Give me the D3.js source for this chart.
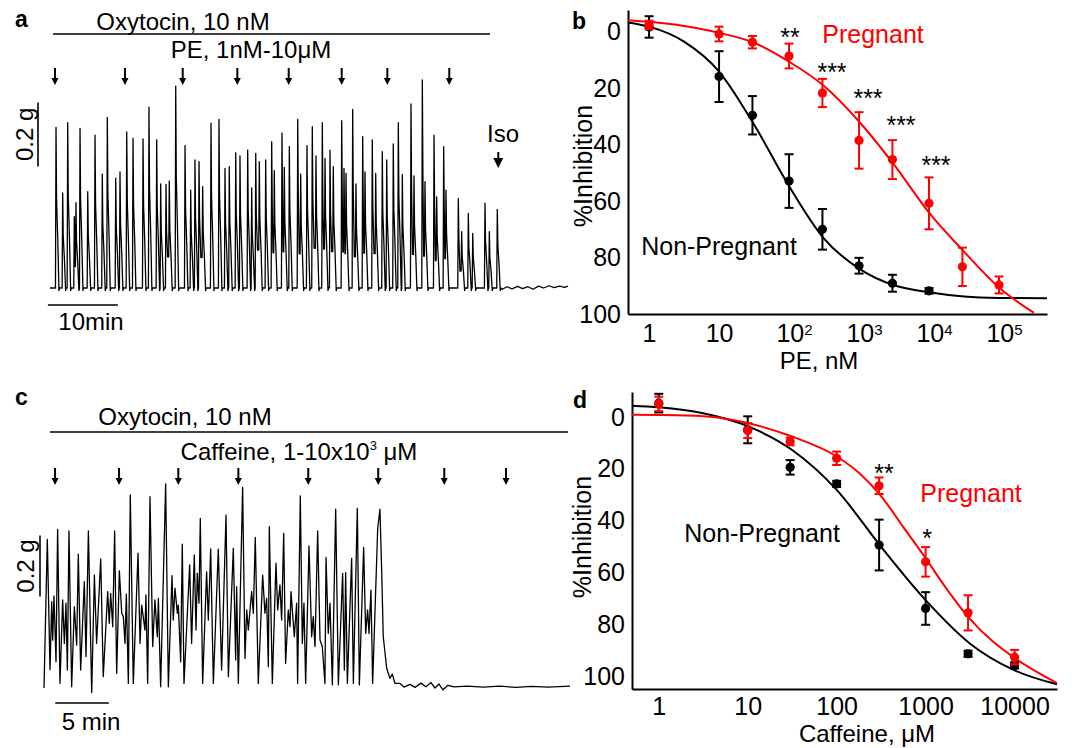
<!DOCTYPE html>
<html>
<head>
<meta charset="utf-8">
<script src="https://cdn.jsdelivr.net/npm/d3@7/dist/d3.min.js"></script>
<style>
  body { margin: 0; background: #fff; }
  text { font-family: "Liberation Sans", Arial, Helvetica, sans-serif; }
</style>
</head>
<body>
<div id="wrapper"></div>
<script>
// ---------- panel a : PE on oxytocin contractions ----------
const peArrowTimes = [0.71, 10.71, 18.96, 26.76, 34.1, 41.67, 48.19, 57.04]; // min
const isoTime = 64.04;
const oxyBarA = [0.43, 62.86];
// contraction spikes: [time (min), force (g)]
const spikesA = [
  [0.86,0.502],[1.81,0.297],[2.53,0.517],[3.47,0.223],[3.71,0.267],[4.29,0.499],[5.39,0.301],[6.43,0.478],
  [7.47,0.356],[8.19,0.533],[9.39,0.343],[10.0,0.363],[10.96,0.488],[11.86,0.468],[13.29,0.466],[14.14,0.565],
  [15.24,0.463],[15.81,0.325],[16.57,0.324],[17.04,0.334],[17.96,0.631],[19.29,0.445],[20.1,0.306],[20.71,0.4],
  [21.29,0.395],[21.81,0.317],[23.0,0.515],[24.14,0.527],[25.0,0.374],[25.61,0.379],[26.53,0.423],[27.14,0.413],
  [28.24,0.431],[28.81,0.313],[29.39,0.421],[29.9,0.395],[30.81,0.4],[31.67,0.457],[32.04,0.367],[33.14,0.485],
  [33.47,0.377],[34.19,0.442],[35.39,0.527],[35.81,0.356],[36.71,0.445],[37.47,0.504],[38.0,0.413],[38.9,0.517],
  [39.29,0.405],[40.0,0.431],[40.47,0.379],[41.67,0.523],[42.0,0.374],[42.29,0.358],[43.24,0.558],[43.71,0.325],
  [44.67,0.473],[45.0,0.363],[46.04,0.463],[46.53,0.358],[47.47,0.426],[48.1,0.4],[49.04,0.45],[49.76,0.517],
  [50.33,0.355],[51.57,0.575],[52.0,0.35],[53.19,0.65],[53.57,0.332],[54.86,0.478],[55.24,0.285],[56.24,0.442],
  [56.57,0.306],[58.33,0.28],[58.81,0.176],[59.76,0.233],[60.39,0.171],[62.14,0.265],[62.76,0.176],[63.9,0.246]
];
// resting tension after Iso: [time (min), force (g)]
const tailA = [
  [64.6,-0.004],[65.3,0.004],[66,-0.003],[66.8,0.005],[67.5,-0.002],[68.3,0.004],[69,-0.004],
  [69.8,0.006],[70.5,0.0],[71.3,0.007],[72,0.001],[72.8,0.006],[73.5,0.002],[74,0.006]
];

// ---------- panel c : caffeine on oxytocin contractions ----------
const cafArrowTimes = [1.03, 7.0, 12.53, 18.13, 24.65, 31.18, 37.34, 43.1]; // min
const oxyBarC = [0.56, 48.88];
// trace turning points: [time (min), force (g)]
const traceC = [
  [0,0],[0.31,0.487],[0.56,0.06],[0.72,0.283],[0.81,0.157],[0.93,0.302],[1.12,0.086],[1.27,0.52],[1.49,0.015],
  [1.74,0.289],[1.9,0.146],[2.05,0.278],[2.18,0.059],[2.33,0.515],[2.58,0.004],[2.83,0.267],[3.05,0.141],[3.2,0.439],
  [3.42,0.059],[3.76,0.349],[3.92,0.103],[4.14,0.515],[4.45,-0.015],[4.7,0.37],[4.91,0.146],[5.29,0.423],[5.53,0.037],
  [5.94,0.316],[6.09,0.212],[6.22,0.31],[6.41,0.201],[6.59,0.515],[6.78,0.048],[7.03,0.384],[7.25,0.245],[7.4,0.234],
  [7.56,0.146],[7.68,0.308],[7.87,0.015],[8.05,0.633],[8.33,0.015],[8.77,0.442],[8.96,0.146],[9.11,0.272],[9.42,0.19],
  [9.51,0.305],[9.67,0.015],[9.89,0.627],[10.14,0.136],[10.35,0.289],[10.57,0.168],[10.67,0.294],[10.88,0.004],
  [11.35,0.669],[11.6,0.004],[11.94,0.368],[12.06,0.223],[12.22,0.327],[12.44,0.245],[12.53,0.272],[12.75,0.086],
  [12.9,0.472],[13.06,0.015],[13.59,0.404],[13.77,0.146],[14.02,0.436],[14.18,0.19],[14.3,0.376],[14.46,0.278],
  [14.58,0.556],[14.8,0.015],[15.17,0.381],[15.33,0.223],[15.55,0.456],[15.8,0.015],[16.26,0.455],[16.57,0.059],
  [16.98,0.567],[17.2,0.037],[17.66,0.458],[17.88,0.092],[17.97,0.332],[18.13,0.015],[18.53,0.658],[18.75,0.097],
  [18.91,0.256],[19.06,0.19],[19.37,0.316],[19.53,0.245],[19.71,0.494],[19.99,0.015],[20.4,0.37],[20.61,0.245],
  [20.77,0.294],[20.93,0.07],[21.02,0.529],[21.3,0.015],[21.64,0.409],[21.8,0.256],[22.01,0.338],[22.17,0.223],
  [22.36,0.507],[22.54,0.081],[22.79,0.256],[22.95,0.201],[23.04,0.316],[23.35,0.168],[23.57,0.278],[23.66,0.015],
  [23.91,0.63],[24.1,0.146],[24.25,0.278],[24.41,0.015],[24.72,0.466],[24.97,0.168],[25.12,0.234],[25.28,0.136],
  [25.53,0.515],[25.75,0.157],[25.96,0.136],[26.21,0.015],[26.31,0.428],[26.52,0.179],[26.68,0.278],[26.9,0.01],
  [27.21,0.586],[27.46,0.01],[27.86,0.376],[28.02,0.059],[28.14,0.378],[28.3,0.015],[28.7,0.425],[28.86,0.015],
  [29.23,0.589],[29.42,0.01],[29.82,0.461],[30.01,0.179],[30.19,0.256],[30.32,0.179],[30.5,0.321],[30.66,0.015],
  [31.13,0.523],[31.34,0.586],[31.5,0.387],[31.65,0.168],[31.97,0.064],[32.28,0.032],[32.49,0.046],[32.74,0.015],
  [33.21,0.015],[33.58,0.003],[34.14,0.012],[34.61,0.002],[35.17,0.016],[35.63,0.004],[36.1,0.018],[36.47,0.0],
  [36.85,0.013],[37.22,-0.006],[37.69,0.009],[38.25,0.004],[39.5,0.006],[41,0.003],[42.5,0.006],[44,0.002],
  [45.5,0.005],[47,0.003],[49.07,0.006]
];

// ---------- panel b : PE dose response (%Inhibition) ----------
const peDoses = [1, 10, 30, 100, 300, 1000, 3000, 10000, 30000, 100000]; // nM
const peNonPreg = [-1.7, 15.9, 29.6, 52.9, 70.0, 82.9, 89.1, 91.8];
const peNonPregErr = [3.8, 9.0, 6.8, 9.5, 7.2, 2.8, 3.0, 1.0];
const pePreg = [-2.4, 0.8, 3.7, 8.6, 21.7, 38.5, 45.3, 60.8, 83.3, 89.7];
const pePregErr = [1.5, 2.6, 2.2, 4.4, 5.0, 10.0, 6.9, 9.2, 6.8, 3.0];
const peFitDoses = [0.5, 1, 3.16, 10, 31.6, 100, 316, 1000, 3162, 10000, 31623, 100000, 485000];
const peFitNonPreg = [-3.3, -1.8, 3.5, 14.1, 32.9, 54.7, 73.3, 83.9, 89.8, 92.3, 93.8, 94.3, 94.4];
const peFitPregDoses = [0.5, 1, 3.16, 10, 31.6, 100, 316, 1000, 3162, 10000, 31623, 100000, 316228];
const peFitPreg = [-4.1, -3.5, -2.0, 0.4, 3.9, 10.6, 19.2, 31.8, 47.1, 64.1, 77.9, 90.6, 99.6];
const peTicks = [1, 10, 100, 1000, 10000, 100000];
const peTickLabels = [["1", ""], ["10", ""], ["10", "2"], ["10", "3"], ["10", "4"], ["10", "5"]];

// ---------- panel d : caffeine dose response ----------
const cafDoses = [1, 10, 30, 100, 300, 1000, 3000, 10000]; // uM
const cafNonPreg = [-5.4, 4.9, 19.4, 25.8, 49.4, 73.9, 91.4, 95.9];
const cafNonPregErr = [3.6, 5.2, 2.8, 1.2, 9.8, 6.3, 1.2, 1.2];
const cafPreg = [-5.1, 5.2, 9.4, 15.9, 26.5, 55.9, 75.6, 92.7];
const cafPregErr = [2.8, 2.9, 1.5, 2.6, 3.2, 5.7, 6.8, 2.8];
const cafFitNonPregDoses = [0.5, 1, 3.16, 10, 31.6, 100, 316, 1000, 3162, 10000, 30000];
const cafFitNonPreg = [-4.4, -3.8, -1.5, 3.5, 12.7, 28.1, 50.1, 70.7, 87.5, 97.8, 103.2];
const cafFitPregDoses = [0.5, 1, 3.16, 10, 31.6, 100, 178, 316, 562, 1000, 1778, 3162, 5623, 10000, 30000];
const cafFitPreg = [-0.9, -0.8, -0.3, 2.3, 7.5, 15.2, 21.5, 30.5, 42.5, 54.5, 67, 78, 86.5, 93, 102.7];
const cafTicks = [1, 10, 100, 1000, 10000];

const RED = "#ff0000";

const svg = d3.select("#wrapper").append("svg")
    .attr("width", 1083)
    .attr("height", 748);

function label(x, y, txt, opts = {}) {
    return svg.append("text")
        .attr("x", x).attr("y", y)
        .attr("text-anchor", opts.anchor || "middle")
        .attr("font-size", opts.size || 24)
        .attr("font-weight", opts.weight || "normal")
        .attr("fill", opts.color || "#000")
        .text(txt);
}

function drawArrow(x, y0, y1, head) {
    svg.append("line")
        .attr("x1", x).attr("x2", x).attr("y1", y0).attr("y2", y1 - 4)
        .attr("stroke", "#000").attr("stroke-width", 2);
    svg.append("path")
        .attr("d", `M${x - head},${y1 - head * 2}L${x + head},${y1 - head * 2}L${x},${y1}Z`)
        .attr("fill", "#000");
}

// spike list -> polyline (fast rise, quick fall to a shoulder, back to rest)
function spikePoints(spikes) {
    const pts = [[0, 0]];
    spikes.forEach((s, i) => {
        const next = spikes[i + 1];
        pts.push([s[0] - 0.08, pts[pts.length - 1][1]]);
        pts.push(s);
        pts.push([s[0] + 0.08, s[1] * 0.55]);
        if (!next || next[0] - s[0] > 0.55) {
            pts.push([s[0] + 0.25, s[1] * 0.3]);
            pts.push([s[0] + 0.42, -0.008]);
            pts.push([s[0] + 0.5, 0]);
        } else {
            pts.push([(s[0] + next[0]) / 2, Math.min(s[1], next[1]) * 0.3]);
        }
    });
    return pts;
}

// ================= panel a =================
const xA = d3.scaleLinear().domain([0, 74]).range([50, 568]);
const yA = d3.scaleLinear().domain([0, 1]).range([288, -32]);
const traceLineA = d3.line().x(d => xA(d[0])).y(d => yA(d[1]));

label(15, 27, "a", {anchor: "start", weight: "bold", size: 23});
label(183, 30, "Oxytocin, 10 nM");
svg.append("line")
    .attr("x1", xA(oxyBarA[0])).attr("x2", xA(oxyBarA[1])).attr("y1", 34).attr("y2", 34)
    .attr("stroke", "#000").attr("stroke-width", 1.6);
label(251, 58, "PE, 1nM-10\u03bcM");
peArrowTimes.forEach(t => drawArrow(xA(t), 68, 85, 3.5));

svg.append("path")
    .attr("d", traceLineA(spikePoints(spikesA).concat(tailA)))
    .attr("fill", "none").attr("stroke", "#000").attr("stroke-width", 1.3)
    .attr("stroke-linejoin", "round");

label(503, 142, "Iso");
drawArrow(xA(isoTime), 152, 168, 5);

// scale bars a
svg.append("line").attr("x1", 38).attr("x2", 38).attr("y1", yA(0.38)).attr("y2", yA(0.58))
    .attr("stroke", "#000").attr("stroke-width", 1.6);
svg.append("text").attr("transform", `translate(33,${yA(0.48)}) rotate(-90)`)
    .attr("text-anchor", "middle").attr("font-size", 24).text("0.2 g");
svg.append("line").attr("x1", xA(-0.3)).attr("x2", xA(9.7)).attr("y1", 305).attr("y2", 305)
    .attr("stroke", "#000").attr("stroke-width", 1.6);
label(91, 330, "10min");

// ================= panel c =================
const xC = d3.scaleLinear().domain([0, 49.07]).range([44, 570]);
const yC = d3.scaleLinear().domain([0, 1]).range([688, 383]);
const traceLineC = d3.line().x(d => xC(d[0])).y(d => yC(d[1]));

label(15, 405, "c", {anchor: "start", weight: "bold", size: 23});
label(185, 425, "Oxytocin, 10 nM");
svg.append("line")
    .attr("x1", xC(oxyBarC[0])).attr("x2", xC(oxyBarC[1])).attr("y1", 432).attr("y2", 432)
    .attr("stroke", "#000").attr("stroke-width", 1.6);
const cafText = label(299, 460, "Caffeine, 1-10x10");
cafText.append("tspan").attr("dy", -10).attr("font-size", 13).text("3");
cafText.append("tspan").attr("dy", 10).text(" \u03bcM");
cafArrowTimes.forEach(t => drawArrow(xC(t), 468, 485, 3.5));

svg.append("path")
    .attr("d", traceLineC(traceC))
    .attr("fill", "none").attr("stroke", "#000").attr("stroke-width", 1.3)
    .attr("stroke-linejoin", "round");

svg.append("line").attr("x1", 40).attr("x2", 40).attr("y1", yC(0.3)).attr("y2", yC(0.5))
    .attr("stroke", "#000").attr("stroke-width", 1.6);
svg.append("text").attr("transform", `translate(34,${yC(0.4)}) rotate(-90)`)
    .attr("text-anchor", "middle").attr("font-size", 24).text("0.2 g");
svg.append("line").attr("x1", xC(1.05)).attr("x2", xC(6.05)).attr("y1", 703).attr("y2", 703)
    .attr("stroke", "#000").attr("stroke-width", 1.6);
label(91, 730, "5 min");

// ================= dose-response panels =================
function doseResponse(cfg) {
    const x = d3.scaleLog().domain(cfg.xDomain).range(cfg.xRange);
    const y = d3.scaleLinear().domain(cfg.yDomain).range(cfg.yRange);
    const g = svg.append("g");

    const gx = g.append("g")
        .attr("transform", `translate(0,${cfg.yRange[1]})`)
        .call(d3.axisBottom(x).tickValues(cfg.ticks).tickSize(0).tickSizeOuter(0).tickPadding(cfg.pad).tickFormat(""));
    gx.selectAll(".tick text").each(function (d, i) {
        const t = d3.select(this).attr("font-size", 25).attr("fill", "#000");
        const lab = cfg.tickLabels[i];
        t.text(lab[0]);
        if (lab[1]) {
            t.attr("dx", 5);
            t.append("tspan").attr("dy", "-0.45em").attr("font-size", 15).text(lab[1]);
        }
    });
    const gy = g.append("g")
        .attr("transform", `translate(${cfg.xRange[0]},0)`)
        .call(d3.axisLeft(y).tickValues([0, 20, 40, 60, 80, 100]).tickSize(0).tickSizeOuter(0).tickPadding(7));
    gy.selectAll(".tick text").attr("font-size", 25).attr("fill", "#000");
    g.selectAll(".domain").attr("stroke", "#000").attr("stroke-width", 2);
    g.selectAll("text").style("font-family", "'Liberation Sans', Arial, sans-serif");

    const line = d3.line().x(d => x(d[0])).y(d => y(d[1])).curve(d3.curveMonotoneX);
    cfg.series.forEach(s => {
        g.append("path")
            .attr("d", line(d3.zip(s.fitDoses, s.fit)))
            .attr("fill", "none").attr("stroke", s.color).attr("stroke-width", 2);
    });
    cfg.series.forEach(s => {
        const pts = d3.zip(cfg.doses, s.values, s.errors);
        const bars = g.append("g").attr("stroke", s.color).attr("stroke-width", 2);
        pts.forEach(p => {
            const cx = x(p[0]);
            const lo = y(p[1] - p[2]);
            const hi = y(p[1] + p[2]);
            bars.append("line").attr("x1", cx).attr("x2", cx).attr("y1", lo).attr("y2", hi);
            bars.append("line").attr("x1", cx - 4.5).attr("x2", cx + 4.5).attr("y1", lo).attr("y2", lo);
            bars.append("line").attr("x1", cx - 4.5).attr("x2", cx + 4.5).attr("y1", hi).attr("y2", hi);
        });
        g.append("g").selectAll("circle").data(pts).join("circle")
            .attr("cx", p => x(p[0])).attr("cy", p => y(p[1])).attr("r", 4.6)
            .attr("fill", s.color);
    });
    return {x, y};
}

// panel b
doseResponse({
    xDomain: [0.5, 485000], xRange: [628, 1047],
    yDomain: [-7.7, 100], yRange: [10, 314], pad: 10,
    ticks: peTicks, tickLabels: peTickLabels,
    doses: peDoses,
    series: [
        {values: peNonPreg, errors: peNonPregErr, fitDoses: peFitDoses, fit: peFitNonPreg, color: "#000"},
        {values: pePreg, errors: pePregErr, fitDoses: peFitPregDoses, fit: peFitPreg, color: RED}
    ]
});
label(572, 29, "b", {anchor: "start", weight: "bold", size: 23});
svg.append("text").attr("transform", "translate(592,166) rotate(-90)")
    .attr("text-anchor", "middle").attr("font-size", 25).text("%Inhibition");
label(819, 369, "PE, nM", {size: 24});
label(873, 43, "Pregnant", {size: 25, color: RED});
label(719, 255, "Non-Pregnant", {size: 25});
[[790, 46, "**"], [832, 81, "***"], [868, 107, "***"], [901, 134, "***"], [936, 174, "***"]]
    .forEach(s => label(s[0], s[1], s[2], {size: 25}));

// panel d
doseResponse({
    xDomain: [0.5, 30000], xRange: [632, 1057],
    yDomain: [-9.7, 105], yRange: [392, 689], pad: 8,
    ticks: cafTicks, tickLabels: cafTicks.map(v => [String(v), ""]),
    doses: cafDoses,
    series: [
        {values: cafNonPreg, errors: cafNonPregErr, fitDoses: cafFitNonPregDoses, fit: cafFitNonPreg, color: "#000"},
        {values: cafPreg, errors: cafPregErr, fitDoses: cafFitPregDoses, fit: cafFitPreg, color: RED}
    ]
});
label(573, 408, "d", {anchor: "start", weight: "bold", size: 23});
svg.append("text").attr("transform", "translate(591,537) rotate(-90)")
    .attr("text-anchor", "middle").attr("font-size", 25).text("%Inhibition");
label(867, 742, "Caffeine, \u03bcM", {size: 24});
label(971, 502, "Pregnant", {size: 25, color: RED});
label(762, 542, "Non-Pregnant", {size: 25});
[[884, 482, "**"], [927, 547, "*"]].forEach(s => label(s[0], s[1], s[2], {size: 25}));
</script>
</body>
</html>
